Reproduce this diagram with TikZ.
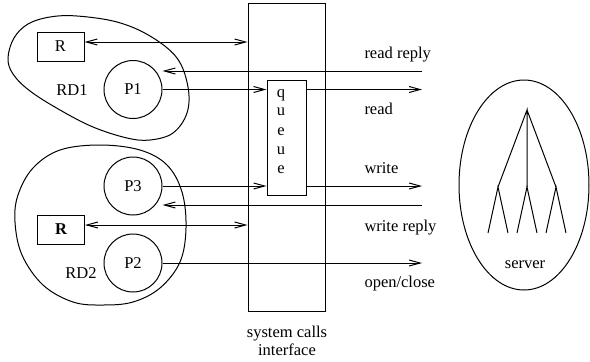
\documentclass[tikz,border=0pt]{standalone}
\usepackage{fontspec}
\setmainfont{Liberation Serif}
\usetikzlibrary{arrows.meta,calc}
\begin{document}
\begin{tikzpicture}[x=1pt,y=-1pt,
  line width=1pt,
  txt/.style={inner sep=0pt,font=\fontsize{16.5}{19}\selectfont},
  proc/.style={circle,draw,minimum size=58pt,inner sep=0pt,font=\fontsize{16.5}{19}\selectfont},
  res/.style={rectangle,draw,minimum width=47pt,minimum height=29pt,inner sep=0pt,font=\fontsize{16.5}{19}\selectfont},
  tip/.style={-{Straight Barb[length=11pt,width=6pt,line width=1pt]}},
  dbl/.style={{Straight Barb[length=11pt,width=6pt,line width=1pt]}-{Straight Barb[length=11pt,width=6pt,line width=1pt]}}]
\useasboundingbox (0,0) rectangle (590,362);

% system call interface and its queue
\node[draw,rectangle,minimum width=77pt,minimum height=308pt,inner sep=0pt] (sys) at (286.5,157) {};
\node[draw,rectangle,fill=white,minimum width=39pt,minimum height=115pt,inner sep=0pt] (queue) at (286.5,137.5) {};
\foreach \c/\y [count=\i] in {q/97,u/115,e/135,u/154,e/173}
  \node[txt,anchor=base] (q\i) at (281,\y) {\c};
\node[txt,anchor=base] (sc1) at (287,337) {system calls};
\node[txt,anchor=base] (sc2) at (287,355) {interface};

% resource domain RD1
\draw plot[smooth cycle,tension=0.6] coordinates {
  (8,58) (14,38) (28,24) (50,17) (77,16) (117,22) (150,36) (177,58)
  (188,87) (187,113) (173,133) (150,140) (127,138) (93,127) (60,110) (30,91) (13,74)};
\node[res] (R1) at (60.5,46.5) {R};
\node[proc] (P1) at (133,89.5) {P1};
\node[txt] (rd1) at (72,90) {RD1};

% resource domain RD2
\draw plot[smooth cycle,tension=0.6] coordinates {
  (100,145) (140,150) (167,165) (182,192) (186,228) (180,262) (160,288)
  (133,302) (103,305) (73,302) (43,285) (22,255) (15,222) (18,195) (33,168) (60,150)};
\node[proc] (P3) at (133,186) {P3};
\node[res,font=\fontsize{16.5}{19}\selectfont\bfseries] (R2) at (61,229.5) {R};
\node[proc] (P2) at (133,263) {P2};
\node[txt] (rd2) at (81,273) {RD2};

% free ends on the right
\coordinate (erreply) at (422,71);
\coordinate (eread) at (422,89.5);
\coordinate (ewrite) at (422,186);
\coordinate (ewreply) at (422,205);
\coordinate (eopen) at (422,263);

% connectors
\draw[dbl] (R1.east |- 0,42) -- (sys.west |- 0,42);
\draw[tip] (erreply) -- (P1.east |- erreply);
\draw[tip] (P1.east) -- (P1.east -| queue.west);
\draw[tip] (queue.east |- P1.east) -- (eread);
\draw[tip] (P3.east) -- (P3.east -| queue.west);
\draw[tip] (queue.east |- P3.east) -- (ewrite);
\draw[tip] (ewreply) -- (P3.east |- ewreply);
\draw[dbl] (R2.east |- 0,225) -- (sys.west |- 0,225);
\draw[tip] (P2.east) -- (eopen);

% labels of the calls
\node[txt,anchor=base west] (lrr) at (364,58) {read reply};
\node[txt,anchor=base west] (lr) at (364,114) {read};
\node[txt,anchor=base west] (lw) at (364,173) {write};
\node[txt,anchor=base west] (lwr) at (364,231) {write reply};
\node[txt,anchor=base west] (loc) at (364,287) {open/close};

% server with its process tree
\draw (524,185) ellipse [x radius=65, y radius=105];
\coordinate (root) at (527,110);
\coordinate (cl) at (498,187);
\coordinate (cm) at (527,187);
\coordinate (cr) at (556,187);
\draw (cl) -- (root) -- (cm) (root) -- (cr);
\draw (488,233) -- (cl) -- (508,233);
\draw (517,233) -- (cm) -- (537,233);
\draw (546,233) -- (cr) -- (566,233);
\node[txt,anchor=base] (srv) at (525,268) {server};
\end{tikzpicture}
\end{document}
